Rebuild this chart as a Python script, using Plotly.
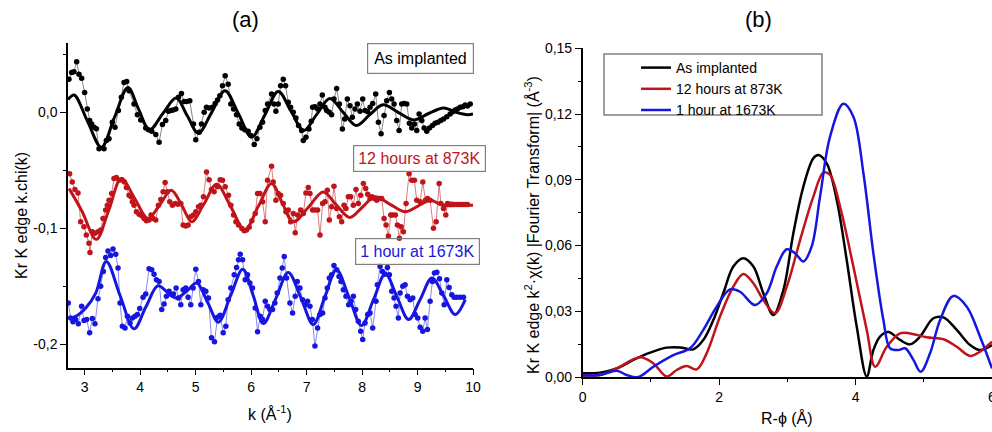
import plotly.graph_objects as go

W, H = 992, 432

# ---------------- Panel (a): k.chi(k) data (points) ----------------
k_as = [2.717, 2.765, 2.807, 2.856, 2.898, 2.946, 3.000, 3.048, 3.090, 3.126,
        3.168, 3.211, 3.259, 3.349, 3.391, 3.439, 3.499, 3.547, 3.608, 3.662,
        3.710, 3.758, 3.800, 3.890, 3.951, 4.011, 4.101, 4.149, 4.209, 4.282,
        4.342, 4.402, 4.462, 4.510, 4.552, 4.594, 4.643, 4.691, 4.745, 4.793,
        4.841, 4.895, 4.961, 5.003, 5.064, 5.106, 5.154, 5.196, 5.244, 5.304,
        5.353, 5.395, 5.437, 5.485, 5.533, 5.587, 5.635, 5.684, 5.738, 5.786,
        5.834, 5.888, 5.948, 5.996, 6.057, 6.105, 6.159, 6.207, 6.255, 6.297,
        6.369, 6.411, 6.447, 6.489, 6.532, 6.580, 6.622, 6.670, 6.712, 6.760,
        6.808, 6.856, 6.911, 6.941, 6.989, 7.043, 7.085, 7.109, 7.151, 7.199,
        7.242, 7.284, 7.332, 7.362, 7.410, 7.452, 7.494, 7.542, 7.591, 7.645,
        7.687, 7.735, 7.783, 7.825, 7.873, 7.916, 7.964, 8.012, 8.054, 8.102,
        8.144, 8.192, 8.246, 8.295, 8.343, 8.397, 8.445, 8.493, 8.535, 8.577,
        8.625, 8.668, 8.716, 8.758, 8.806, 8.854, 8.896, 8.944, 8.986, 9.029,
        9.077, 9.119, 9.167, 9.215, 9.269, 9.317, 9.366, 9.420, 9.468, 9.528,
        9.588, 9.636, 9.678, 9.720, 9.769, 9.817, 9.859, 9.901, 9.950]
chi_as = [0.0286, 0.0343, 0.0349, 0.0435, 0.0329, 0.0294, 0.0172, 0.0029, -0.0071, -0.0100,
          -0.0128, -0.0142, -0.0314, -0.0314, -0.0242, -0.0228, -0.0085, -0.0128, 0.0015, 0.0129,
          0.0257, 0.0266, 0.0186, 0.0072, -0.0020, -0.0065, -0.0134, -0.0151, -0.0162, -0.0191,
          -0.0257, -0.0105, -0.0071, 0.0009, 0.0015, 0.0020, 0.0029, 0.0129, 0.0163, 0.0094,
          0.0094, 0.0100, -0.0100, -0.0237, -0.0171, -0.0100, 0.0000, 0.0043, 0.0037, 0.0043,
          0.0077, 0.0106, 0.0143, 0.0229, 0.0315, 0.0243, 0.0072, 0.0029, -0.0020, -0.0100,
          -0.0134, -0.0151, -0.0162, -0.0200, -0.0277, -0.0228, -0.0128, -0.0085, 0.0015, 0.0072,
          0.0157, 0.0072, 0.0009, 0.0072, 0.0229, 0.0286, 0.0229, 0.0086, 0.0043, 0.0000,
          -0.0048, -0.0114, -0.0157, -0.0243, -0.0214, -0.0143, -0.0077, 0.0043, 0.0049, 0.0029,
          0.0072, 0.0149, 0.0043, 0.0015, 0.0000, -0.0020, 0.0114, 0.0206, 0.0072, -0.0143,
          -0.0057, 0.0114, 0.0057, -0.0043, 0.0029, 0.0072, 0.0009, 0.0114, 0.0015, 0.0006,
          0.0043, 0.0077, 0.0157, -0.0085, -0.0185, -0.0028, 0.0100, 0.0172, 0.0114, 0.0072,
          -0.0071, -0.0157, 0.0072, 0.0077, 0.0072, -0.0094, -0.0134, -0.0100, -0.0157, -0.0014,
          -0.0071, -0.0134, -0.0162, -0.0134, -0.0114, -0.0094, -0.0085, -0.0071, -0.0057, -0.0037,
          -0.0014, 0.0006, 0.0020, 0.0029, 0.0043, 0.0049, 0.0063, 0.0054, 0.0071]

k_873 = [2.729, 2.777, 2.825, 2.880, 2.928, 2.988, 3.030, 3.078, 3.096, 3.138,
         3.186, 3.241, 3.289, 3.331, 3.379, 3.409, 3.439, 3.487, 3.529, 3.572,
         3.620, 3.668, 3.716, 3.752, 3.800, 3.836, 3.860, 3.890, 3.933, 3.981,
         4.029, 4.071, 4.113, 4.161, 4.197, 4.233, 4.282, 4.330, 4.372, 4.414,
         4.450, 4.492, 4.534, 4.582, 4.631, 4.679, 4.733, 4.775, 4.823, 4.865,
         4.913, 4.961, 5.003, 5.052, 5.094, 5.142, 5.196, 5.244, 5.286, 5.334,
         5.395, 5.443, 5.485, 5.533, 5.593, 5.635, 5.684, 5.726, 5.774, 5.834,
         5.876, 5.918, 5.966, 6.014, 6.075, 6.117, 6.159, 6.207, 6.255, 6.297,
         6.369, 6.399, 6.447, 6.489, 6.532, 6.580, 6.628, 6.670, 6.712, 6.760,
         6.796, 6.838, 6.893, 6.941, 6.989, 7.031, 7.061, 7.109, 7.151, 7.199,
         7.242, 7.290, 7.332, 7.374, 7.410, 7.452, 7.494, 7.542, 7.591, 7.633,
         7.675, 7.711, 7.753, 7.795, 7.843, 7.891, 7.933, 7.976, 8.024, 8.066,
         8.102, 8.144, 8.180, 8.222, 8.264, 8.312, 8.355, 8.397, 8.433, 8.475,
         8.517, 8.553, 8.601, 8.637, 8.673, 8.704, 8.746, 8.794, 8.848, 8.896,
         8.944, 8.986, 9.047, 9.095, 9.143, 9.179, 9.227, 9.287, 9.336, 9.390,
         9.420, 9.468, 9.510, 9.540, 9.580, 9.618, 9.660, 9.700, 9.739, 9.780,
         9.820, 9.859, 9.900]
chi_873 = [-0.0528, -0.0600, -0.0665, -0.0694, -0.0942, -0.0985, -0.1057, -0.1128, -0.1208, -0.1028,
           -0.1042, -0.1028, -0.1014, -0.0914, -0.0842, -0.0800, -0.0757, -0.0700, -0.0571, -0.0562,
           -0.0585, -0.0580, -0.0600, -0.0648, -0.0714, -0.0728, -0.0771, -0.0800, -0.0857, -0.0877,
           -0.0891, -0.0914, -0.0934, -0.0928, -0.0885, -0.0914, -0.0928, -0.0800, -0.0751, -0.0685,
           -0.0605, -0.0685, -0.0771, -0.0800, -0.0785, -0.0791, -0.0785, -0.0971, -0.0980, -0.0971,
           -0.0900, -0.0885, -0.0857, -0.0814, -0.0800, -0.0728, -0.0514, -0.0580, -0.0665, -0.0685,
           -0.0642, -0.0580, -0.0585, -0.0642, -0.0714, -0.0800, -0.0885, -0.0942, -0.0971, -0.1000,
           -0.1020, -0.1014, -0.0991, -0.0934, -0.0871, -0.0700, -0.0700, -0.0771, -0.0942, -0.0585,
           -0.0465, -0.0600, -0.0757, -0.0700, -0.0714, -0.0785, -0.0857, -0.0842, -0.0942, -0.0871,
           -0.1037, -0.0885, -0.0842, -0.0871, -0.0694, -0.0648, -0.0700, -0.0842, -0.0842, -0.0842,
           -0.1057, -0.0785, -0.0771, -0.0671, -0.0928, -0.0814, -0.0637, -0.0828, -0.0900, -0.0942,
           -0.0800, -0.0828, -0.0728, -0.0728, -0.0800, -0.0665, -0.0785, -0.0714, -0.0614, -0.0657,
           -0.0705, -0.0742, -0.0728, -0.0742, -0.0757, -0.0742, -0.0742, -0.0914, -0.0971, -0.1065,
           -0.0885, -0.0885, -0.0885, -0.0971, -0.1085, -0.0985, -0.1028, -0.0785, -0.0528, -0.0585,
           -0.0585, -0.0757, -0.0771, -0.0600, -0.0757, -0.0742, -0.0757, -0.0999, -0.0942, -0.0614,
           -0.0785, -0.0828, -0.0885, -0.0785, -0.0792, -0.0791, -0.0795, -0.0794, -0.0794, -0.0795,
           -0.0794, -0.0794, -0.0795]

k_1673 = [2.705, 2.747, 2.789, 2.837, 2.886, 2.946, 2.988, 3.036, 3.090, 3.138,
          3.186, 3.241, 3.289, 3.337, 3.379, 3.421, 3.469, 3.511, 3.560, 3.602,
          3.638, 3.680, 3.728, 3.770, 3.818, 3.860, 3.909, 3.951, 3.993, 4.053,
          4.101, 4.161, 4.209, 4.251, 4.294, 4.342, 4.390, 4.432, 4.474, 4.522,
          4.570, 4.600, 4.649, 4.691, 4.733, 4.775, 4.823, 4.865, 4.913, 4.955,
          5.003, 5.052, 5.094, 5.136, 5.184, 5.232, 5.286, 5.340, 5.395, 5.443,
          5.497, 5.545, 5.587, 5.635, 5.696, 5.738, 5.774, 5.804, 5.846, 5.894,
          5.936, 5.978, 6.026, 6.075, 6.117, 6.165, 6.207, 6.255, 6.297, 6.339,
          6.387, 6.429, 6.471, 6.520, 6.562, 6.598, 6.640, 6.700, 6.748, 6.796,
          6.832, 6.881, 6.929, 6.977, 7.019, 7.061, 7.103, 7.151, 7.199, 7.242,
          7.290, 7.332, 7.374, 7.410, 7.452, 7.494, 7.542, 7.585, 7.621, 7.663,
          7.711, 7.759, 7.801, 7.843, 7.885, 7.933, 7.976, 8.012, 8.054, 8.102,
          8.144, 8.192, 8.252, 8.276, 8.325, 8.367, 8.415, 8.457, 8.493, 8.535,
          8.577, 8.613, 8.655, 8.686, 8.734, 8.776, 8.818, 8.866, 8.914, 8.956,
          9.004, 9.047, 9.095, 9.137, 9.179, 9.227, 9.269, 9.305, 9.348, 9.396,
          9.438, 9.480, 9.528, 9.570, 9.618, 9.660, 9.708, 9.769, 9.829]
chi_1673 = [-0.1642, -0.1771, -0.1805, -0.1785, -0.1822, -0.1671, -0.1794, -0.1785, -0.1899, -0.1777,
            -0.1822, -0.1605, -0.1499, -0.1371, -0.1251, -0.1194, -0.1234, -0.1177, -0.1222, -0.1342,
            -0.1642, -0.1842, -0.1857, -0.1757, -0.1814, -0.1771, -0.1757, -0.1742, -0.1691, -0.1594,
            -0.1565, -0.1348, -0.1357, -0.1394, -0.1442, -0.1457, -0.1699, -0.1651, -0.1585, -0.1542,
            -0.1571, -0.1565, -0.1514, -0.1599, -0.1657, -0.1528, -0.1514, -0.1594, -0.1657, -0.1514,
            -0.1351, -0.1457, -0.1657, -0.1528, -0.1542, -0.1599, -0.1942, -0.1977, -0.1765, -0.1748,
            -0.1899, -0.1842, -0.1614, -0.1514, -0.1399, -0.1337, -0.1271, -0.1222, -0.1271, -0.1442,
            -0.1399, -0.1471, -0.1514, -0.1685, -0.1891, -0.1757, -0.1785, -0.1628, -0.1671, -0.1699,
            -0.1699, -0.1642, -0.1557, -0.1428, -0.1342, -0.1242, -0.1428, -0.1642, -0.1728, -0.1585,
            -0.1457, -0.1514, -0.1614, -0.1657, -0.1628, -0.1671, -0.1785, -0.2014, -0.1857, -0.1742,
            -0.1728, -0.1599, -0.1514, -0.1428, -0.1399, -0.1319, -0.1357, -0.1414, -0.1457, -0.1528,
            -0.1585, -0.1657, -0.1628, -0.1585, -0.1699, -0.1799, -0.1885, -0.1956, -0.1814, -0.1742,
            -0.1728, -0.1857, -0.1628, -0.1485, -0.1328, -0.1371, -0.1394, -0.1337, -0.1399, -0.1542,
            -0.1599, -0.1671, -0.1771, -0.1557, -0.1499, -0.1485, -0.1585, -0.1614, -0.1599, -0.1742,
            -0.1771, -0.1851, -0.1885, -0.1771, -0.1871, -0.1628, -0.1457, -0.1385, -0.1377, -0.1434,
            -0.1557, -0.1657, -0.1442, -0.1508, -0.1571, -0.1594, -0.1594, -0.1594, -0.1594]

# ---------------- Panel (a): fitted curves ----------------
kfit_as = [2.70, 2.81, 3.05, 3.30, 3.54, 3.78, 3.97, 4.17, 4.41, 4.65, 4.85, 5.05, 5.29,
           5.53, 5.77, 6.01, 6.25, 6.49, 6.72, 6.95, 7.18, 7.42, 7.66, 7.90, 8.14, 8.38,
           8.65, 8.93, 9.20, 9.47, 9.70, 9.90, 10.0]
fit_as = [0.011, 0.015, -0.0075, -0.030, -0.004, 0.0214, 0.003, -0.015, -0.001, 0.0123, -0.003,
          -0.018, 0.000, 0.0186, -0.001, -0.0214, -0.002, 0.018, 0.001, -0.0157, -0.002, 0.012,
          0.000, -0.0114, -0.002, 0.0066, 0.000, -0.0065, -0.001, 0.0038, 0.000, -0.002, -0.0015]

kfit_873 = [2.72, 2.95, 3.21, 3.43, 3.66, 3.90, 4.14, 4.35, 4.56, 4.75, 4.93, 5.15, 5.38,
            5.63, 5.89, 6.13, 6.37, 6.56, 6.76, 7.03, 7.30, 7.54, 7.78, 8.00, 8.23, 8.50,
            8.78, 9.00, 9.23, 9.40, 9.55, 9.75, 10.0]
fit_873 = [-0.0657, -0.085, -0.1094, -0.085, -0.0571, -0.074, -0.0914, -0.080, -0.0671, -0.080,
           -0.0943, -0.079, -0.0620, -0.081, -0.1014, -0.081, -0.0614, -0.078, -0.0943, -0.082,
           -0.0686, -0.080, -0.0905, -0.082, -0.0728, -0.079, -0.0857, -0.081, -0.0757, -0.079,
           -0.0805, -0.0800, -0.0800]

kfit_1673 = [2.72, 2.84, 3.02, 3.20, 3.39, 3.64, 3.89, 4.10, 4.32, 4.49, 4.65, 4.84, 5.02,
             5.22, 5.41, 5.63, 5.85, 6.04, 6.22, 6.45, 6.67, 6.90, 7.12, 7.33, 7.54, 7.77,
             7.99, 8.21, 8.42, 8.63, 8.84, 9.05, 9.26, 9.47, 9.68, 9.86]
fit_1673 = [-0.1771, -0.1757, -0.1685, -0.1557, -0.1285, -0.158, -0.1865, -0.168, -0.1494, -0.155,
            -0.1599, -0.154, -0.1471, -0.164, -0.1808, -0.158, -0.1351, -0.158, -0.1819, -0.160,
            -0.1380, -0.160, -0.1828, -0.159, -0.1357, -0.160, -0.1836, -0.161, -0.1391, -0.159,
            -0.1785, -0.161, -0.1428, -0.158, -0.1742, -0.1614]

# ---------------- Panel (b): Fourier transform magnitudes ----------------
r_as = [0.0, 0.254, 0.498, 0.742, 0.987, 1.231, 1.426, 1.622, 1.768, 1.915, 2.061, 2.208,
        2.355, 2.502, 2.648, 2.795, 2.942, 3.088, 3.235, 3.381, 3.455, 3.577, 3.724, 3.870,
        4.017, 4.164, 4.261, 4.359, 4.481, 4.652, 4.799, 4.945, 5.141, 5.288, 5.483, 5.679,
        5.825, 6.0]
ft_as = [0.0017, 0.0020, 0.0039, 0.0078, 0.0111, 0.0134, 0.0135, 0.0126, 0.0169, 0.0260,
         0.0382, 0.0504, 0.0542, 0.0504, 0.0382, 0.0283, 0.0397, 0.0656, 0.0869, 0.0998,
         0.1013, 0.0975, 0.0808, 0.0534, 0.0230, 0.0002, 0.0123, 0.0184, 0.0205, 0.0169,
         0.0149, 0.0184, 0.0268, 0.0272, 0.0215, 0.0146, 0.0123, 0.0146]

r_873 = [0.0, 0.254, 0.498, 0.840, 1.036, 1.231, 1.378, 1.524, 1.671, 1.817, 2.013, 2.208,
         2.355, 2.502, 2.648, 2.820, 2.991, 3.187, 3.381, 3.528, 3.626, 3.773, 3.968, 4.164,
         4.288, 4.457, 4.652, 4.799, 5.043, 5.288, 5.483, 5.679, 5.825, 6.0]
ft_873 = [0.0006, 0.0009, 0.0039, 0.0090, 0.0062, 0.0002, 0.0032, 0.0050, 0.0035, 0.0108,
          0.0276, 0.0412, 0.0470, 0.0428, 0.0351, 0.0291, 0.0412, 0.0625, 0.0823, 0.0933,
          0.0922, 0.0777, 0.0504, 0.0214, 0.0047, 0.0138, 0.0199, 0.0199, 0.0181, 0.0172,
          0.0138, 0.0096, 0.0116, 0.0161]

r_1673 = [0.0, 0.254, 0.498, 0.645, 0.816, 1.036, 1.329, 1.573, 1.768, 1.964, 2.159, 2.306,
          2.526, 2.697, 2.844, 2.991, 3.113, 3.235, 3.357, 3.479, 3.626, 3.821, 3.968, 4.115,
          4.261, 4.408, 4.506, 4.628, 4.726, 4.848, 4.955, 5.092, 5.239, 5.434, 5.630, 5.825, 6.0]
ft_1673 = [0.0009, 0.0009, 0.0029, 0.0009, 0.0000, 0.0047, 0.0100, 0.0131, 0.0215, 0.0321,
           0.0400, 0.0389, 0.0328, 0.0382, 0.0504, 0.0583, 0.0565, 0.0527, 0.0596, 0.0823,
           0.1097, 0.1247, 0.1188, 0.0930, 0.0565, 0.0260, 0.0131, 0.0123, 0.0131, 0.0078,
           0.0024, 0.0108, 0.0260, 0.0370, 0.0321, 0.0184, 0.0039]

# ---------------- Labels / ticks ----------------
series_names = ["As implanted", "12 hours at 873K", "1 hour at 1673K"]
colors = ["#000000", "#c0141a", "#1616e0"]
thin_colors = ["#6a6a6a", "#d0585c", "#6a6af0"]

ka_tickvals = [3, 4, 5, 6, 7, 8, 9, 10]
ka_ticktext = ["3", "4", "5", "6", "7", "8", "9", "10"]
chi_tickvals = [-0.2, -0.1, 0.0]
chi_ticktext = ["-0,2", "-0,1", "0,0"]
r_tickvals = [0, 2, 4, 6]
r_ticktext = ["0", "2", "4", "6"]
ft_tickvals = [0.0, 0.03, 0.06, 0.09, 0.12, 0.15]
ft_ticktext = ["0,00", "0,03", "0,06", "0,09", "0,12", "0,15"]

FONT = "Liberation Sans, Arial, sans-serif"

fig = go.Figure()

data_a = [(k_as, chi_as), (k_873, chi_873), (k_1673, chi_1673)]
fits_a = [(kfit_as, fit_as), (kfit_873, fit_873), (kfit_1673, fit_1673)]
for i, ((kx, ky), (fx, fy)) in enumerate(zip(data_a, fits_a)):
    fig.add_trace(go.Scatter(x=kx, y=ky, mode="lines+markers", xaxis="x", yaxis="y",
                             line=dict(color=thin_colors[i], width=0.8),
                             marker=dict(color=colors[i], size=5.5),
                             showlegend=False, hoverinfo="skip"))
    fig.add_trace(go.Scatter(x=fx, y=fy, mode="lines", xaxis="x", yaxis="y",
                             line=dict(color=colors[i], width=3, shape="spline", smoothing=1.0),
                             showlegend=False, hoverinfo="skip"))

data_b = [(r_as, ft_as), (r_873, ft_873), (r_1673, ft_1673)]
for i, (rx, ry) in enumerate(data_b):
    fig.add_trace(go.Scatter(x=rx, y=ry, mode="lines", xaxis="x2", yaxis="y2",
                             name=series_names[i],
                             line=dict(color=colors[i], width=2.5, shape="spline", smoothing=1.0),
                             showlegend=True))

axis_common = dict(showline=True, linecolor="black", linewidth=1.5, showgrid=False, zeroline=False,
                   ticks="outside", ticklen=6, tickwidth=1.3, tickcolor="black", tickmode="array",
                   tickfont=dict(size=14, family=FONT, color="black"), automargin=False,
                   ticklabeloverflow="allow")

fig.update_layout(
    width=W, height=H,
    margin=dict(l=0, r=0, t=0, b=0),
    paper_bgcolor="white", plot_bgcolor="white",
    font=dict(family=FONT, color="black"),
    xaxis=dict(domain=[68 / W, 473 / W], range=[2.7, 10], anchor="y",
               tickvals=ka_tickvals, ticktext=ka_ticktext,
               minor=dict(ticks="outside", ticklen=3, tick0=0, dtick=0.5, tickcolor="black", tickwidth=1.2),
               **axis_common),
    yaxis=dict(domain=[1 - 367.7 / H, 1 - 42.7 / H], range=[-0.22, 0.06], anchor="x",
               tickvals=chi_tickvals, ticktext=chi_ticktext,
               minor=dict(ticks="outside", ticklen=3, tick0=0, dtick=0.05, tickcolor="black", tickwidth=1.2),
               **axis_common),
    xaxis2=dict(domain=[582.7 / W, 1.0], range=[0, 6], anchor="y2",
                tickvals=r_tickvals, ticktext=r_ticktext,
                minor=dict(ticks="outside", ticklen=3, tick0=0, dtick=1, tickcolor="black", tickwidth=1.2),
                **axis_common),
    yaxis2=dict(domain=[1 - 377 / H, 1 - 48.3 / H], range=[0, 0.15], anchor="x2",
                tickvals=ft_tickvals, ticktext=ft_ticktext,
                minor=dict(ticks="outside", ticklen=3, tick0=0, dtick=0.015, tickcolor="black", tickwidth=1.2),
                **axis_common),
    legend=dict(x=636 / W, y=1 - 52 / H, xanchor="left", yanchor="top",
                bgcolor="rgba(0,0,0,0)", borderwidth=0,
                font=dict(size=14, family=FONT, color="black"), itemwidth=30, tracegroupgap=0),
)

# legend frame
fig.add_shape(type="rect", xref="paper", yref="paper",
              x0=604 / W, x1=822 / W, y0=1 - 115 / H, y1=1 - 54 / H,
              line=dict(color="#808080", width=1.5), fillcolor="rgba(0,0,0,0)")

def px(x, y):
    return x / W, 1 - y / H

annots = []
for txt, (x, y) in [("(a)", (245, 20)), ("(b)", (758, 20))]:
    ax, ay = px(x, y)
    annots.append(dict(text=txt, x=ax, y=ay, xref="paper", yref="paper", showarrow=False,
                       xanchor="center", yanchor="middle", font=dict(size=22, family=FONT)))
ax, ay = px(270, 413)
annots.append(dict(text="k (Å<sup>-1</sup>)", x=ax, y=ay, xref="paper", yref="paper", showarrow=False,
                   xanchor="center", yanchor="middle", font=dict(size=16, family=FONT)))
ax, ay = px(21, 216)
annots.append(dict(text="Kr K edge k.chi(k)", x=ax, y=ay, xref="paper", yref="paper", showarrow=False,
                   xanchor="center", yanchor="middle", textangle=-90, font=dict(size=16, family=FONT)))
ax, ay = px(787, 418)
annots.append(dict(text="R-ϕ (Å)", x=ax, y=ay, xref="paper", yref="paper", showarrow=False,
                   xanchor="center", yanchor="middle", font=dict(size=16, family=FONT)))
ax, ay = px(532, 225)
annots.append(dict(text="Kr K edge k<sup>2</sup>·χ(k) |Fourier Transform| (Å<sup>-3</sup>)",
                   x=ax, y=ay, xref="paper", yref="paper", showarrow=False,
                   xanchor="center", yanchor="middle", textangle=-90, font=dict(size=16, family=FONT)))
for txt, col, (x, y), pad in [(series_names[0], colors[0], (420, 58), 6),
                              (series_names[1], colors[1], (419, 158.5), 4),
                              (series_names[2], colors[2], (417, 251.5), 4)]:
    ax, ay = px(x, y)
    annots.append(dict(text=txt, x=ax, y=ay, xref="paper", yref="paper", showarrow=False,
                       xanchor="center", yanchor="middle", font=dict(size=16, family=FONT, color=col),
                       bordercolor="#808080", borderwidth=1.2, borderpad=pad))
fig.update_layout(annotations=annots)

fig.write_html("out.html", config={"displayModeBar": False},
               post_script="document.body.style.margin='0px';document.body.style.overflow='hidden';")
